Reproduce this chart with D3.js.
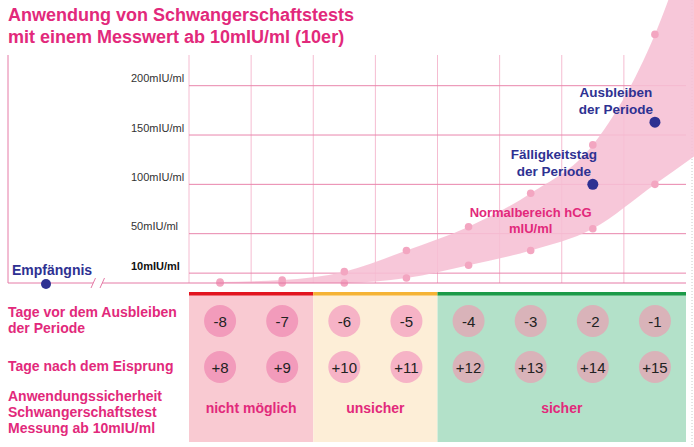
<!DOCTYPE html>
<html>
<head>
<meta charset="utf-8">
<script src="https://cdn.jsdelivr.net/npm/d3@7"></script>
<style>
  body { margin: 0; background: #fff; }
  svg { display: block; font-family: "Liberation Sans", Arial, Helvetica, sans-serif; }
</style>
</head>
<body>
<svg id="chart" width="694" height="447"></svg>
<script>
// --- data ---
const days = [-8, -7, -6, -5, -4, -3, -2, -1];
const daysAfterOvulation = ["+8", "+9", "+10", "+11", "+12", "+13", "+14", "+15"];
// hCG normal range (mIU/ml); day 0 continues the band off the right edge
const curveDays = [-8, -7, -6, -5, -4, -3, -2, -1, 0];
const hcgUpper = [1, 3, 11.5, 33, 57, 91, 140, 252, 440];
const hcgLower = [0, 0, 0, 5, 18, 33, 55, 100, 145];
const yTicks = [10, 50, 100, 150, 200];
const zoneNames = ["nicht möglich", "unsicher", "sicher"];
const zoneDays = [[-8, -7], [-6, -5], [-4, -1]];
const markerLabels = [["Fälligkeitstag", "der Periode"], ["Ausbleiben", "der Periode"]];
const markerDays = [-2, -1];
const markerValues = [100, 163];

// --- styles ---
const pink = "#e2297b";
const navy = "#2e3192";
const zoneColors = {
  "nicht möglich": { bg: "#f9cad2", bar: "#e2141f", dot: "#f29bbb" },
  "unsicher":      { bg: "#fdeed7", bar: "#f5b335", dot: "#f6b3c6" },
  "sicher":        { bg: "#b3e1c9", bar: "#1b9a48", dot: "#d9b3b9" }
};

const svg = d3.select("#chart");

const x = d3.scaleLinear().domain([-8.5, -0.5]).range([189, 686]);
const y = d3.scaleLinear().domain([0, 200]).range([283, 85.7]);

// title
const title = svg.append("text")
  .attr("x", 8).attr("y", 21)
  .attr("fill", pink).attr("font-size", 18).attr("font-weight", "bold");
title.append("tspan").attr("x", 8).text("Anwendung von Schwangerschaftstests");
title.append("tspan").attr("x", 8).attr("dy", 22).text("mit einem Messwert ab 10mIU/ml (10er)");

// right dotted edge
svg.append("line")
  .attr("x1", 692).attr("x2", 692).attr("y1", 0).attr("y2", 447)
  .attr("stroke", "#c8c8c8").attr("stroke-dasharray", "1,2");

// vertical grid
svg.append("g").selectAll("line")
  .data(d3.range(-8.5, -1, 1))
  .join("line")
  .attr("x1", d => x(d)).attr("x2", d => x(d))
  .attr("y1", 55).attr("y2", y(0))
  .attr("stroke", "#f5bcd1").attr("stroke-width", 1);

// horizontal grid
svg.append("g").selectAll("line")
  .data(yTicks)
  .join("line")
  .attr("x1", x(-8.5)).attr("x2", x(-0.5))
  .attr("y1", d => y(d)).attr("y2", d => y(d))
  .attr("stroke", "#e985ac").attr("stroke-width", 1);

// y labels
svg.append("g").selectAll("text")
  .data(yTicks)
  .join("text")
  .attr("x", 131).attr("y", d => y(d) - 3.5)
  .attr("font-size", 11)
  .attr("font-weight", d => d === 10 ? "bold" : "normal")
  .attr("fill", d => d === 10 ? "#111" : "#333")
  .text(d => `${d}mIU/ml`);

// hCG band
const band = curveDays.map((d, i) => ({ day: d, lo: hcgLower[i], hi: hcgUpper[i] }));
const area = d3.area()
  .x(d => x(d.day))
  .y0(d => y(d.lo))
  .y1(d => y(d.hi))
  .curve(d3.curveMonotoneX);
svg.append("path")
  .datum(band)
  .attr("d", area)
  .attr("fill", "#f6bfd4")
  .attr("opacity", 0.88);

const bandDots = band.filter(d => d.day < 0)
  .flatMap(d => [{ day: d.day, v: d.lo }, { day: d.day, v: d.hi }]);
svg.append("g").selectAll("circle")
  .data(bandDots)
  .join("circle")
  .attr("cx", d => x(d.day)).attr("cy", d => y(d.v))
  .attr("r", 3.8)
  .attr("fill", "#f3a6c1");

// frame: left axis and baseline with break
svg.append("line")
  .attr("x1", 8).attr("x2", 8).attr("y1", 55).attr("y2", y(0))
  .attr("stroke", "#e57aa6");
svg.append("line")
  .attr("x1", 8).attr("x2", x(-0.5)).attr("y1", y(0)).attr("y2", y(0))
  .attr("stroke", "#e57aa6");
svg.append("rect")
  .attr("x", 93).attr("y", y(0) - 2).attr("width", 9).attr("height", 4)
  .attr("fill", "#fff");
svg.append("g").selectAll("line")
  .data([91, 100])
  .join("line")
  .attr("x1", d => d).attr("x2", d => d + 4.5)
  .attr("y1", y(0) + 5).attr("y2", y(0) - 5)
  .attr("stroke", "#e57aa6");

// Empfängnis
svg.append("circle")
  .attr("cx", 46).attr("cy", y(0) + 1).attr("r", 5).attr("fill", navy);
svg.append("text")
  .attr("x", 12).attr("y", 275)
  .attr("font-size", 14).attr("font-weight", "bold").attr("fill", navy)
  .text("Empfängnis");

// markers
markerDays.forEach((d, i) => {
  const cx = x(d), cy = y(markerValues[i]);
  svg.append("circle").attr("cx", cx).attr("cy", cy).attr("r", 5.5).attr("fill", navy);
  svg.append("text")
    .attr("x", cx - 39).attr("y", cy - 25)
    .attr("text-anchor", "middle")
    .attr("font-size", 13.5).attr("font-weight", "bold").attr("fill", navy)
    .selectAll("tspan")
    .data(markerLabels[i])
    .join("tspan")
    .attr("x", cx - 39).attr("dy", (t, j) => j === 0 ? 0 : 17)
    .text(t => t);
});

// band label
const bandLabel = svg.append("text")
  .attr("x", x(-3)).attr("y", y(67))
  .attr("text-anchor", "middle")
  .attr("font-size", 13).attr("font-weight", "bold").attr("fill", pink);
bandLabel.append("tspan").attr("x", x(-3)).text("Normalbereich hCG");
bandLabel.append("tspan").attr("x", x(-3)).attr("dy", 16.5).text("mIU/ml");

// zones
const zones = zoneNames.map((n, i) => ({ name: n, from: zoneDays[i][0], to: zoneDays[i][1] }));
const zg = svg.append("g");
zg.selectAll("rect.bg")
  .data(zones)
  .join("rect").attr("class", "bg")
  .attr("x", d => x(d.from - 0.5)).attr("width", d => x(d.to + 0.5) - x(d.from - 0.5))
  .attr("y", 295).attr("height", 147)
  .attr("fill", d => zoneColors[d.name].bg);
zg.selectAll("rect.bar")
  .data(zones)
  .join("rect").attr("class", "bar")
  .attr("x", d => x(d.from - 0.5)).attr("width", d => x(d.to + 0.5) - x(d.from - 0.5))
  .attr("y", 292).attr("height", 3.5)
  .attr("fill", d => zoneColors[d.name].bar);
zg.selectAll("text")
  .data(zones)
  .join("text")
  .attr("x", d => x((d.from + d.to) / 2)).attr("y", 413)
  .attr("text-anchor", "middle")
  .attr("font-size", 14).attr("font-weight", "bold").attr("fill", pink)
  .text(d => d.name);

const zoneOf = d => zones.find(z => d >= z.from && d <= z.to).name;

// day circles
const rows = [
  { cy: 321, labels: days.map(String) },
  { cy: 367, labels: daysAfterOvulation }
];
rows.forEach(row => {
  const g = svg.append("g");
  const cells = days.map((d, i) => ({ day: d, label: row.labels[i] }));
  g.selectAll("circle")
    .data(cells)
    .join("circle")
    .attr("cx", d => x(d.day)).attr("cy", row.cy).attr("r", 16)
    .attr("fill", d => zoneColors[zoneOf(d.day)].dot);
  g.selectAll("text")
    .data(cells)
    .join("text")
    .attr("x", d => x(d.day)).attr("y", row.cy + 5.5)
    .attr("text-anchor", "middle")
    .attr("font-size", 15).attr("fill", "#222")
    .text(d => d.label);
});

// row labels
const rowLabels = [
  { y: 317, lines: ["Tage vor dem Ausbleiben", "der Periode"] },
  { y: 371, lines: ["Tage nach dem Eisprung"] },
  { y: 401, lines: ["Anwendungssicherheit", "Schwangerschaftstest", "Messung ab 10mIU/ml"] }
];
rowLabels.forEach(r => {
  svg.append("text")
    .attr("x", 8).attr("y", r.y)
    .attr("font-size", 14).attr("font-weight", "bold").attr("fill", pink)
    .selectAll("tspan")
    .data(r.lines)
    .join("tspan")
    .attr("x", 8).attr("dy", (t, j) => j === 0 ? 0 : 16)
    .text(t => t);
});
</script>
</body>
</html>
